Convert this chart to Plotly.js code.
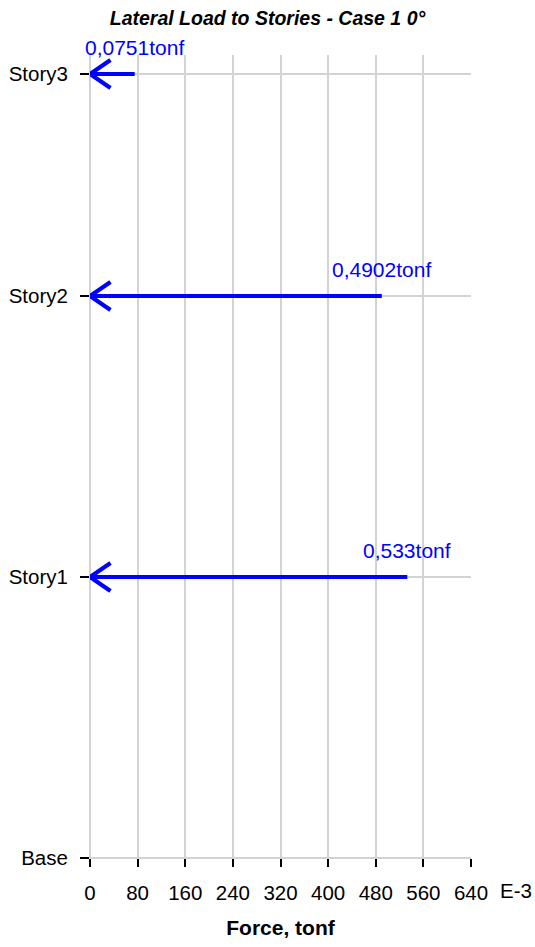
<!DOCTYPE html>
<html><head><meta charset="utf-8">
<script src="https://cdn.plot.ly/plotly-3.0.1.min.js"></script>
<style>html,body{margin:0;padding:0;background:#fff}#chart{width:535px;height:947px}</style>
</head><body><div id="chart"></div>
<script>
// Data
const stories = ["Base", "Story1", "Story2", "Story3"];
const elevations = [0, 3, 6, 8.37];
const loadStories = ["Story1", "Story2", "Story3"];
const loadElev = [3, 6, 8.37];
const forces = [0.533, 0.4902, 0.0751]; // tonf
const forceLabels = ["0,533tonf", "0,4902tonf", "0,0751tonf"];
const xTicks = [0, 80, 160, 240, 320, 400, 480, 560, 640];

const scale = 1000; // E-3
const xs = forces.map(f => f * scale);

const font = "Liberation Sans, Arial, sans-serif";
const blue = "#0000ff";
const grid = "#d3d3d3";

// layout geometry
const W = 535, H = 947;
const margin = {l: 90, r: 64, t: 55, b: 89};
const xRange = [0, 640];
const yRange = [0, 8.573];
const plotW = W - margin.l - margin.r;
const plotH = H - margin.t - margin.b;
// arrowhead size in pixels, converted to axis units
const headLenPx = 20.5, headHalfPx = 14;
const headDx = headLenPx * (xRange[1] - xRange[0]) / plotW;
const headDy = headHalfPx * (yRange[1] - yRange[0]) / plotH;

// shafts: from the force value back to zero
const shaftX = [], shaftY = [];
const headX = [], headY = [];
xs.forEach((v, i) => {
  const e = loadElev[i];
  shaftX.push(v, 0, null); shaftY.push(e, e, null);
  headX.push(headDx, 0, headDx, null); headY.push(e + headDy, e, e - headDy, null);
});

const traces = [
  {type: "scatter", mode: "lines", x: shaftX, y: shaftY,
   line: {color: blue, width: 4}, hoverinfo: "skip", showlegend: false},
  {type: "scatter", mode: "lines", x: headX, y: headY,
   line: {color: blue, width: 4.2}, hoverinfo: "skip", showlegend: false}
];

const annotations = [];
xs.forEach((v, i) => {
  annotations.push({
    x: v, y: loadElev[i], xref: "x", yref: "y",
    text: forceLabels[i], showarrow: false,
    xanchor: "center", yanchor: "bottom", yshift: 13,
    font: {family: font, size: 21, color: blue}
  });
});
annotations.push({
  xref: "paper", yref: "paper", x: 1, y: 0,
  xanchor: "left", yanchor: "middle", xshift: 27, yshift: -32,
  text: "E-3", showarrow: false,
  font: {family: font, size: 20.5, color: "#000"}
});

const layout = {
  width: W, height: H,
  margin: margin,
  paper_bgcolor: "#fff", plot_bgcolor: "#fff",
  title: {
    text: "<b><i>Lateral Load to Stories - Case 1 0°</i></b>",
    font: {family: font, size: 19.5, color: "#000"},
    x: 0.5, xref: "container", xanchor: "center", y: 0.981, yanchor: "middle"
  },
  xaxis: {
    range: xRange, tickvals: xTicks, ticktext: xTicks.map(String),
    showgrid: true, gridcolor: grid, gridwidth: 2,
    zeroline: true, zerolinecolor: grid, zerolinewidth: 2,
    showline: false,
    ticks: "outside", ticklen: 8, tickwidth: 2, tickcolor: "#000",
    ticklabelstandoff: 8,
    tickfont: {family: font, size: 20.5, color: "#000"},
    title: {text: "<b>Force, tonf</b>", font: {family: font, size: 21, color: "#000"}, standoff: 17},
    fixedrange: true
  },
  yaxis: {
    range: yRange, tickvals: elevations, ticktext: stories,
    showgrid: true, gridcolor: grid, gridwidth: 2,
    zeroline: true, zerolinecolor: grid, zerolinewidth: 2,
    showline: false,
    ticks: "outside", ticklen: 9, tickwidth: 2, tickcolor: "#000",
    ticklabelstandoff: 8,
    tickfont: {family: font, size: 20.5, color: "#000"},
    fixedrange: true
  },
  annotations: annotations,
  showlegend: false
};

Plotly.newPlot("chart", traces, layout, {displayModeBar: false, staticPlot: true});
</script>
</body></html>
